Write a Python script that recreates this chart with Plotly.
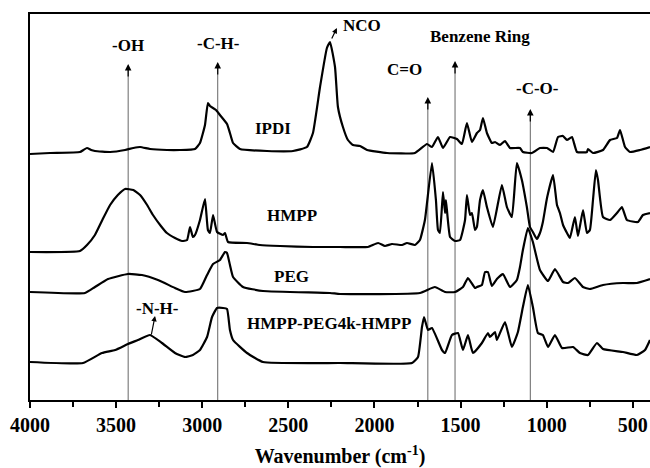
import plotly.graph_objects as go

# ---- data (wavenumber cm-1, offset absorbance in arbitrary units) ----
ipdi_wn = [4000, 3884, 3710, 3690, 3669, 3645, 3623, 3535, 3448, 3400, 3361, 3303, 3205, 3129, 3042, 3013, 2984, 2967, 2955, 2920, 2897, 2856, 2839, 2821, 2781, 2624, 2473, 2392, 2357, 2316, 2276, 2258, 2229, 2212, 2183, 2154, 2125, 2084, 2043, 1927, 1765, 1695, 1666, 1631, 1602, 1561, 1521, 1492, 1463, 1434, 1405, 1387, 1370, 1347, 1318, 1300, 1271, 1242, 1213, 1155, 1138, 1086, 1039, 998, 963, 934, 905, 882, 853, 824, 766, 760, 731, 673, 632, 592, 574, 545, 516, 458, 400]
ipdi_ab = [246, 247, 248, 250, 252, 250, 249, 248, 250, 252, 253, 251, 250, 250, 251, 257, 275, 297, 294, 290, 285, 276, 267, 257, 251, 249, 249, 253, 267, 313, 352, 358, 333, 293, 273, 260, 255, 254, 250, 247, 247, 256, 253, 263, 252, 263, 261, 256, 277, 258, 267, 270, 282, 267, 257, 258, 255, 259, 252, 252, 248, 247, 252, 252, 248, 263, 264, 260, 263, 248, 248, 251, 247, 250, 260, 262, 270, 253, 248, 250, 253]

hmpp_wn = [4000, 3710, 3669, 3623, 3580, 3535, 3490, 3448, 3400, 3361, 3320, 3286, 3240, 3205, 3158, 3117, 3088, 3071, 3054, 3042, 3013, 2984, 2967, 2955, 2937, 2914, 2879, 2868, 2850, 2740, 2665, 2548, 2357, 2200, 2038, 1979, 1939, 1898, 1840, 1811, 1765, 1736, 1707, 1666, 1643, 1631, 1620, 1602, 1590, 1585, 1561, 1532, 1503, 1474, 1463, 1445, 1434, 1416, 1405, 1387, 1370, 1347, 1312, 1260, 1231, 1202, 1173, 1144, 1115, 1097, 1080, 1057, 1039, 1022, 998, 963, 940, 923, 905, 882, 865, 836, 818, 789, 766, 749, 731, 714, 702, 673, 632, 592, 563, 534, 470, 441, 400]
hmpp_ab = [148, 149, 155, 165, 180, 195, 205, 211, 210, 205, 195, 185, 174, 167, 162, 159, 160, 173, 163, 165, 180, 201, 170, 167, 185, 168, 165, 167, 158, 157, 155, 154, 153, 153, 153, 157, 154, 156, 155, 157, 155, 160, 180, 237, 200, 170, 167, 208, 187, 200, 163, 159, 160, 180, 205, 185, 187, 170, 173, 200, 210, 193, 173, 215, 193, 183, 237, 220, 193, 173, 168, 161, 167, 178, 202, 225, 195, 187, 175, 167, 162, 183, 164, 190, 167, 170, 200, 230, 220, 183, 180, 187, 193, 180, 178, 185, 187]

peg_wn = [4000, 3681, 3623, 3547, 3431, 3350, 3257, 3158, 3100, 3013, 2972, 2937, 2897, 2868, 2856, 2839, 2821, 2763, 2647, 2258, 2200, 1736, 1649, 1590, 1532, 1486, 1457, 1416, 1405, 1376, 1358, 1341, 1318, 1289, 1254, 1213, 1173, 1155, 1138, 1109, 1080, 1039, 992, 952, 905, 876, 836, 789, 749, 673, 557, 476, 400]
peg_ab = [108, 107, 113, 121, 126, 125, 120, 112, 108, 111, 125, 136, 140, 148, 147, 135, 123, 113, 109, 107, 106, 107, 113, 108, 108, 113, 122, 112, 113, 115, 128, 128, 114, 121, 126, 113, 120, 133, 150, 172, 158, 130, 119, 131, 118, 117, 122, 113, 111, 115, 117, 117, 121]

copo_wn = [4000, 3692, 3582, 3506, 3431, 3373, 3303, 3234, 3158, 3100, 3054, 3013, 2972, 2943, 2914, 2879, 2856, 2839, 2821, 2740, 2647, 2200, 1782, 1747, 1724, 1712, 1689, 1666, 1608, 1590, 1550, 1515, 1486, 1457, 1428, 1376, 1341, 1329, 1300, 1289, 1242, 1202, 1167, 1138, 1109, 1080, 1051, 1022, 992, 952, 911, 847, 807, 760, 708, 673, 557, 476, 429, 400]
copo_ab = [38, 37, 47, 50, 56, 60, 65, 57, 47, 43, 45, 50, 63, 83, 92, 92, 91, 70, 60, 47, 38, 37, 37, 43, 73, 83, 70, 72, 50, 47, 65, 67, 50, 65, 47, 57, 67, 63, 68, 60, 78, 53, 68, 93, 115, 93, 67, 65, 53, 65, 52, 53, 47, 45, 57, 51, 48, 45, 50, 60]

series_names = ["IPDI", "HMPP", "PEG", "HMPP-PEG4k-HMPP"]
series_wn = [ipdi_wn, hmpp_wn, peg_wn, copo_wn]
series_ab = [ipdi_ab, hmpp_ab, peg_ab, copo_ab]

# trace labels: (text, wavenumber, level)
trace_labels = [("IPDI", 2589, 272), ("HMPP", 2479, 185), ("PEG", 2479, 124), ("HMPP-PEG4k-HMPP", 2264, 77)]

# band markers: (label, wavenumber of line, arrow tip level, label x, label y)
bands = [("-OH", 3430, 336, 3431, 355),
         ("-C-H-", 2910, 338, 2908, 357),
         ("C=O", 1690, 303, 1823, 331),
         ("Benzene Ring", 1532, 339, 1387, 364),
         ("-C-O-", 1095, 291, 1051, 312)]

tick_vals = [4000, 3500, 3000, 2500, 2000, 1500, 1000, 500]

FONT = "Liberation Serif"

fig = go.Figure()
for name, wn, ab in zip(series_names, series_wn, series_ab):
    fig.add_trace(go.Scatter(x=wn, y=ab, mode="lines", name=name,
                             line=dict(color="black", width=2.2, shape="spline", smoothing=0.4),
                             showlegend=False, hoverinfo="skip"))

shapes = []
annotations = []
for lab, wn, tip, lx, ly in bands:
    shapes.append(dict(type="line", xref="x", yref="y", x0=wn, x1=wn, y0=0, y1=tip - 4,
                       line=dict(color="#666666", width=1), layer="below"))
    annotations.append(dict(x=wn, y=tip, ax=wn, ay=tip - 14, xref="x", yref="y", axref="x", ayref="y",
                            showarrow=True, arrowhead=2, arrowsize=1.1, arrowwidth=1.2, arrowcolor="black", text=""))
    annotations.append(dict(x=lx, y=ly, xref="x", yref="y", text="<b>%s</b>" % lab, showarrow=False,
                            font=dict(family=FONT, size=17, color="black")))

for lab, wn, lv in trace_labels:
    annotations.append(dict(x=wn, y=lv, xref="x", yref="y", text="<b>%s</b>" % lab, showarrow=False,
                            font=dict(family=FONT, size=17, color="black")))

# NCO label with small arrow from peak
annotations.append(dict(x=2072, y=375, xref="x", yref="y", text="<b>NCO</b>", showarrow=False,
                        font=dict(family=FONT, size=17, color="black")))
annotations.append(dict(x=2218, y=372, ax=2252, ay=360, xref="x", yref="y", axref="x", ayref="y",
                        showarrow=True, arrowhead=2, arrowsize=0.9, arrowwidth=1.2, arrowcolor="black", text=""))
# N-H label with arrow
annotations.append(dict(x=3257, y=92, xref="x", yref="y", text="<b>-N-H-</b>", showarrow=False,
                        font=dict(family=FONT, size=17, color="black")))
annotations.append(dict(x=3274, y=84, ax=3297, ay=64, xref="x", yref="y", axref="x", ayref="y",
                        showarrow=True, arrowhead=2, arrowsize=0.9, arrowwidth=1.2, arrowcolor="black", text=""))

fig.update_layout(
    width=650, height=468,
    margin=dict(l=30, r=0, t=14, b=68),
    plot_bgcolor="white", paper_bgcolor="white",
    shapes=shapes, annotations=annotations,
    xaxis=dict(range=[4000, 400], showline=True, linecolor="black", linewidth=2, mirror=True,
               showgrid=False, zeroline=False, ticks="outside", ticklen=6, tickwidth=1.5, tickcolor="black",
               tickvals=tick_vals, ticktext=["<b>%d</b>" % v for v in tick_vals],
               tickfont=dict(family=FONT, size=20, color="black"),
               minor=dict(ticks="outside", ticklen=5, tickwidth=1.5, tickcolor="black", dtick=250, tick0=0),
               title=dict(text="<b>Wavenumber (cm<sup>-1</sup>)</b>", standoff=14,
                          font=dict(family=FONT, size=20, color="black"))),
    yaxis=dict(range=[0, 386], showline=True, linecolor="black", linewidth=2, mirror=False,
               showgrid=False, zeroline=False, showticklabels=False, ticks=""),
)

fig.write_html("out.html")
